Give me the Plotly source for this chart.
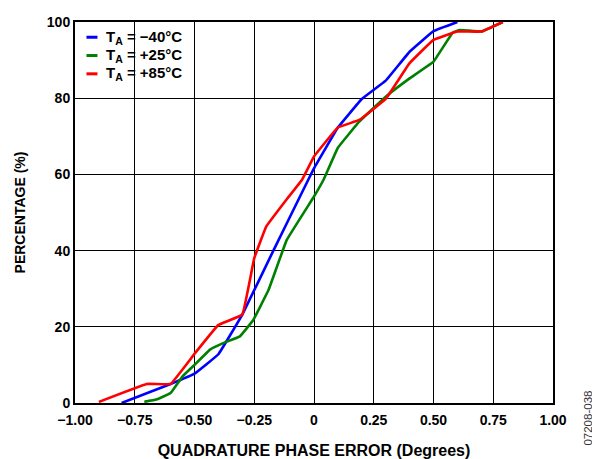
import plotly.graph_objects as go

x_m40 = [-0.805, -0.60, -0.50, -0.40, -0.30, -0.17, -0.024, 0.0, 0.10, 0.20, 0.30, 0.40, 0.50, 0.60]
y_m40 = [0.0, 5.0, 7.7, 12.8, 23.2, 40.0, 58.6, 61.6, 72.3, 79.8, 84.6, 92.2, 97.6, 100.0]

x_p25 = [-0.71, -0.66, -0.60, -0.55, -0.50, -0.435, -0.38, -0.31, -0.254, -0.19, -0.114, 0.0, 0.04, 0.10, 0.19, 0.30, 0.40, 0.50, 0.58, 0.61, 0.70, 0.79]
y_p25 = [0.3, 0.9, 2.6, 7.0, 10.0, 14.0, 15.7, 17.5, 21.8, 29.7, 42.8, 54.2, 58.6, 67.0, 73.9, 80.4, 85.2, 89.6, 97.2, 97.9, 97.5, 100.0]

x_p85 = [-0.90, -0.70, -0.60, -0.50, -0.40, -0.30, -0.25, -0.20, -0.11, -0.05, 0.0, 0.10, 0.19, 0.30, 0.40, 0.50, 0.60, 0.70, 0.79]
y_p85 = [0.3, 5.0, 5.0, 12.9, 20.5, 23.2, 38.0, 46.3, 53.8, 58.6, 64.7, 72.3, 74.3, 79.8, 89.2, 95.3, 97.5, 97.5, 100.0]

x_ticks = [-1.0, -0.75, -0.5, -0.25, 0, 0.25, 0.5, 0.75, 1.0]
x_tick_labels = ["\u22121.00", "\u22120.75", "\u22120.50", "\u22120.25", "0", "0.25", "0.50", "0.75", "1.00"]
y_ticks = [0, 20, 40, 60, 80, 100]
legend_labels = ["T<sub>A</sub> = \u221240\u00b0C", "T<sub>A</sub> = +25\u00b0C", "T<sub>A</sub> = +85\u00b0C"]
colors = ["#0000ff", "#008000", "#ff0000"]

FONT = "Liberation Sans, Arial, sans-serif"

fig = go.Figure()
for xs, ys, c, name in zip([x_m40, x_p25, x_p85], [y_m40, y_p25, y_p85], colors, legend_labels):
    fig.add_trace(go.Scatter(x=xs, y=ys, mode="lines", name=name, showlegend=False,
                             line=dict(color=c, width=2.6, shape="spline", smoothing=0.2)))

axis_common = dict(showgrid=True, gridcolor="#000000", gridwidth=1.3,
                   showline=True, linecolor="#000000", linewidth=2, mirror=True,
                   zeroline=False, ticks="", automargin=False,
                   tickfont=dict(family=FONT, size=14, color="#000000"))

# custom legend (short line samples, as in the reference)
annotations = []
shapes = []
row_y = [0.96, 0.912, 0.864]
for c, lab, yy in zip(colors, legend_labels, row_y):
    shapes.append(dict(type="line", xref="paper", yref="paper",
                       x0=0.024, x1=0.047, y0=yy, y1=yy,
                       line=dict(color=c, width=3)))
    annotations.append(dict(text="<b>%s</b>" % lab, xref="paper", yref="paper",
                            x=0.06, y=yy, xanchor="left", yanchor="middle", showarrow=False,
                            font=dict(family=FONT, size=15, color="#000000")))

annotations.append(dict(text="07208-038", xref="paper", yref="paper",
                        x=1.073, y=-0.0385, xanchor="center", yanchor="middle",
                        showarrow=False, textangle=-90,
                        font=dict(family=FONT, size=11.5, color="#333333")))

fig.update_layout(
    width=592, height=451,
    margin=dict(l=67, r=47, t=14, b=56),
    paper_bgcolor="white", plot_bgcolor="white",
    font=dict(family=FONT, color="#000000"),
    showlegend=False,
    xaxis=dict(range=[-1, 1], tickvals=x_ticks,
               ticktext=["<b>%s</b>" % t for t in x_tick_labels],
               ticklabelstandoff=3,
               title=dict(text="<b>QUADRATURE PHASE ERROR (Degrees)</b>",
                          font=dict(family=FONT, size=16, color="#000000"), standoff=18),
               **axis_common),
    yaxis=dict(range=[0, 100], tickvals=y_ticks,
               ticktext=["<b>%d</b>" % v for v in y_ticks],
               title=dict(text="<b>PERCENTAGE (%)</b>",
                          font=dict(family=FONT, size=14, color="#000000"), standoff=18),
               **axis_common),
    annotations=annotations,
    shapes=shapes,
)

fig.write_html("out.html")
